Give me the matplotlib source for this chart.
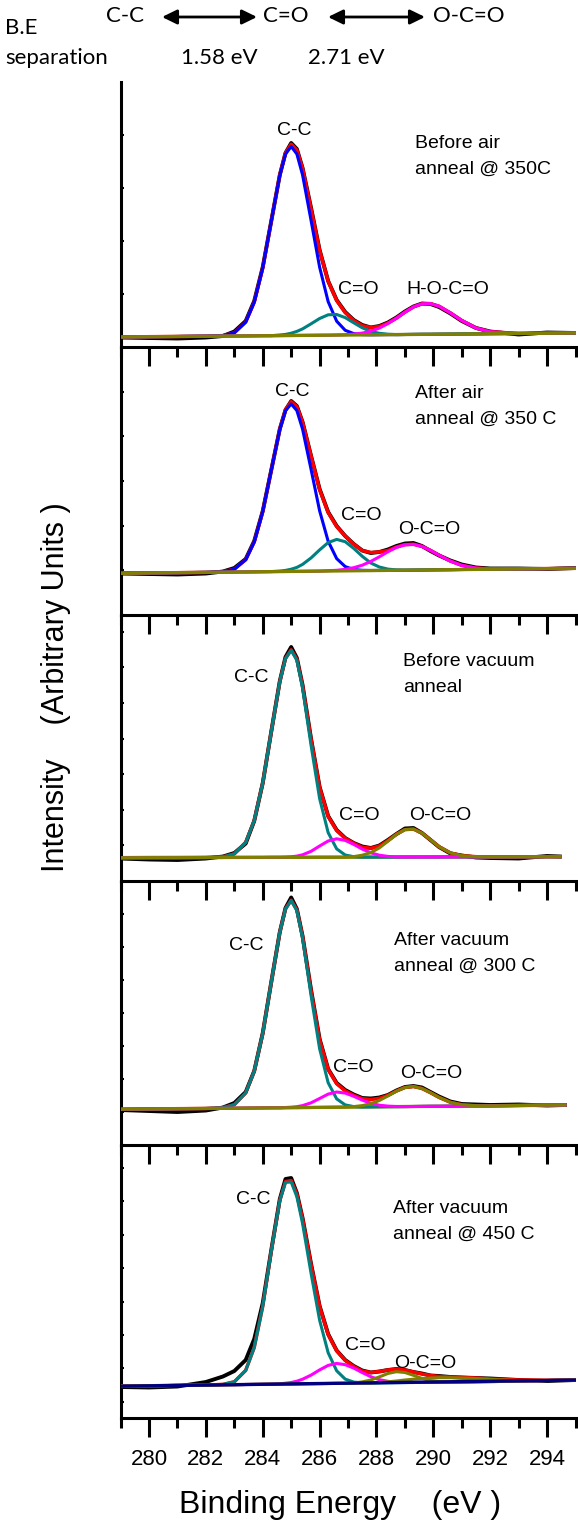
import numpy as np
import matplotlib.pyplot as plt
from matplotlib.ticker import MultipleLocator, FixedLocator

plt.rcParams['font.family'] = ['Liberation Sans', 'DejaVu Sans']

# binding energy grid (eV) shared by all spectra, last point differs per panel
be_grid = [279.0, 280.0, 281.0, 282.0, 282.6, 283.0, 283.4, 283.7, 284.0, 284.3,
           284.6, 284.8, 285.0, 285.2, 285.4, 285.7, 286.0, 286.3, 286.6, 286.9,
           287.2, 287.5, 287.8, 288.1, 288.4, 288.7, 289.0, 289.3, 289.6, 289.9,
           290.2, 290.6, 291.0, 291.5, 292.0, 293.0, 294.0]
be_end = [295.0, 295.0, 294.45, 294.63, 295.0]

# panel 1 : before air anneal @ 350C
raw1 = [9.5, 9.0, 8.5, 9.5, 11.0, 15.5, 26.0, 46.0, 80.0, 126.0, 172.0, 194.0, 204.0, 198.0,
        179.0, 139.0, 97.0, 66.0, 47.0, 35.0, 27.0, 22.0, 19.5, 21.0, 24.5, 29.5, 35.5, 40.5,
        43.5, 43.0, 40.0, 33.5, 26.0, 19.0, 15.5, 12.5, 14.5, 14.0]
fit1 = [10.0, 10.3, 10.5, 10.8, 11.4, 14.2, 24.9, 44.8, 79.3, 126.0, 172.5, 194.0, 202.8, 197.0,
        178.6, 137.9, 96.6, 65.8, 46.5, 34.4, 26.5, 21.3, 19.5, 20.5, 23.9, 28.8, 34.8, 40.1,
        43.2, 43.4, 40.8, 34.1, 26.5, 19.0, 15.2, 13.6, 13.8, 14.0]
cc1 = [10.0, 10.3, 10.5, 10.8, 11.4, 14.2, 24.9, 44.8, 79.3, 126.0, 171.9, 192.9, 200.5, 193.0,
       172.1, 126.4, 79.8, 45.4, 25.8, 16.7, 13.4, 12.4, 12.2, 12.3, 12.4, 12.4, 12.5, 12.6,
       12.7, 12.7, 12.8, 12.9, 13.0, 13.1, 13.3, 13.5, 13.8, 14.0]
co1 = [10.0, 10.3, 10.5, 10.8, 10.9, 11.0, 11.1, 11.2, 11.3, 11.3, 12.0, 12.6, 13.8, 15.6,
       18.1, 23.2, 28.5, 32.2, 32.5, 29.4, 24.2, 19.2, 15.6, 13.7, 12.8, 12.4, 12.5, 12.6,
       12.7, 12.7, 12.8, 12.9, 13.0, 13.1, 13.3, 13.5, 13.8, 14.0]
hoco1 = [10.0, 10.3, 10.5, 10.8, 10.9, 11.0, 11.1, 11.2, 11.3, 11.3, 11.4, 11.5, 11.5, 11.6,
         11.6, 11.7, 11.8, 11.8, 12.0, 12.3, 12.9, 13.9, 15.8, 18.9, 23.4, 28.8, 34.8, 40.1,
         43.2, 43.4, 40.8, 34.1, 26.5, 19.0, 15.2, 13.6, 13.8, 14.0]
bg1 = [10.0, 14.0]

# panel 2 : after air anneal @ 350 C
raw2 = [41.5, 41.0, 40.5, 41.5, 43.5, 47.0, 56.0, 74.0, 104.0, 145.0, 186.0, 205.0, 214.0, 209.0,
        193.0, 159.0, 126.0, 103.0, 89.0, 79.0, 71.0, 64.5, 62.0, 63.0, 65.5, 69.0, 71.5, 72.0,
        69.0, 64.0, 59.5, 54.5, 50.5, 47.5, 46.5, 46.5, 46.0, 47.0]
fit2 = [41.7, 42.0, 42.3, 42.6, 43.3, 45.8, 55.3, 73.0, 103.6, 145.1, 186.2, 205.4, 213.3, 208.4,
        192.8, 158.8, 125.4, 102.5, 88.5, 79.0, 70.8, 64.4, 62.5, 63.0, 64.5, 68.0, 70.3, 70.7,
        68.6, 64.6, 59.8, 53.9, 49.6, 46.9, 46.1, 46.1, 46.4, 46.7]
cc2 = [41.7, 42.0, 42.3, 42.6, 43.3, 45.8, 55.3, 73.0, 103.6, 145.1, 185.7, 204.3, 211.1, 204.4,
       185.9, 145.5, 104.2, 73.8, 56.4, 48.4, 45.5, 44.7, 44.5, 44.6, 44.6, 44.7, 44.8, 44.9,
       45.0, 45.1, 45.2, 45.3, 45.5, 45.6, 45.8, 46.1, 46.4, 46.7]
co2 = [41.7, 42.0, 42.3, 42.6, 42.8, 43.0, 43.1, 43.2, 43.3, 43.4, 43.9, 44.6, 45.8, 47.6,
       50.6, 57.1, 65.1, 72.4, 75.6, 73.3, 66.6, 58.7, 52.0, 48.0, 45.9, 45.1, 44.8, 44.9,
       45.0, 45.1, 45.2, 45.3, 45.5, 45.6, 45.8, 46.1, 46.4, 46.7]
oco2 = [41.7, 42.0, 42.3, 42.6, 42.8, 43.0, 43.1, 43.2, 43.3, 43.4, 43.5, 43.5, 43.6, 43.6,
        43.7, 43.8, 43.9, 44.3, 44.7, 45.7, 47.3, 49.8, 53.6, 58.2, 63.2, 67.6, 70.3, 70.7,
        68.6, 64.6, 59.8, 53.9, 49.6, 46.9, 46.1, 46.1, 46.4, 46.7]
bg2 = [41.7, 46.7]

# panel 3 : before vacuum anneal
raw3 = [22.5, 21.5, 21.0, 22.5, 24.5, 28.0, 37.5, 60.0, 98.0, 149.5, 200.0, 224.0, 234.0, 223.0,
        196.0, 142.0, 94.0, 65.0, 51.0, 43.0, 38.0, 34.5, 33.0, 35.5, 41.0, 47.0, 52.5, 53.0,
        48.0, 41.0, 34.0, 27.5, 25.5, 23.5, 23.0, 22.5, 25.0, 24.5]
fit3 = [23.3, 23.4, 23.4, 23.5, 24.1, 27.1, 38.7, 60.4, 98.1, 149.3, 199.4, 222.6, 231.2, 221.8,
        195.3, 141.5, 93.6, 64.6, 50.5, 42.8, 37.7, 33.8, 32.7, 35.0, 40.4, 46.7, 51.4, 51.9,
        47.9, 41.2, 34.3, 28.1, 25.3, 24.3, 24.1, 24.2, 24.3, 24.3]
cc3 = [23.3, 23.4, 23.4, 23.5, 24.1, 27.1, 38.7, 60.4, 98.1, 149.3, 199.4, 222.4, 230.7, 220.6,
       192.8, 135.5, 82.4, 48.4, 32.1, 26.0, 24.3, 23.9, 23.9, 23.9, 23.9, 23.9, 24.0, 24.0,
       24.0, 24.0, 24.0, 24.1, 24.1, 24.1, 24.1, 24.2, 24.3, 24.3]
co3 = [23.3, 23.4, 23.4, 23.5, 23.5, 23.6, 23.6, 23.6, 23.6, 23.7, 23.7, 23.9, 24.2, 24.9,
       26.2, 29.7, 35.0, 40.0, 42.2, 40.6, 36.6, 31.9, 28.2, 25.8, 24.6, 24.1, 24.0, 24.0,
       24.0, 24.0, 24.0, 24.1, 24.1, 24.1, 24.1, 24.2, 24.3, 24.3]
oco3 = [23.3, 23.4, 23.4, 23.5, 23.5, 23.6, 23.6, 23.6, 23.6, 23.7, 23.7, 23.7, 23.7, 23.7,
        23.7, 23.7, 23.8, 23.8, 23.8, 23.8, 24.4, 25.8, 28.4, 33.1, 39.7, 46.5, 51.4, 51.9,
        47.9, 41.2, 34.3, 28.1, 25.3, 24.3, 24.1, 24.2, 24.3, 24.3]
bg3 = [23.3, 24.3]

# panel 4 : after vacuum anneal @ 300 C
raw4 = [35.0, 34.0, 33.0, 34.5, 37.5, 42.0, 53.0, 74.0, 112.0, 163.0, 213.0, 237.0, 247.5, 236.0,
        209.0, 155.0, 106.0, 76.0, 62.0, 55.0, 50.5, 47.0, 46.5, 47.5, 50.0, 54.5, 58.0, 59.0,
        57.5, 53.0, 48.5, 43.5, 41.0, 40.5, 40.0, 40.5, 39.5, 40.0]
fit4 = [35.7, 36.0, 36.3, 36.5, 37.3, 40.3, 52.0, 73.8, 111.6, 162.8, 212.9, 236.2, 244.8, 235.2,
        208.5, 154.0, 105.1, 75.5, 61.3, 54.1, 49.7, 46.3, 45.5, 46.6, 49.6, 54.0, 57.5, 58.5,
        56.5, 52.3, 47.6, 42.7, 40.2, 39.3, 39.2, 39.5, 39.8, 40.0]
cc4 = [35.7, 36.0, 36.3, 36.5, 37.3, 40.3, 52.0, 73.8, 111.6, 162.8, 212.9, 236.0, 244.4, 234.3,
       206.6, 149.3, 96.2, 62.3, 46.1, 40.1, 38.4, 38.0, 38.1, 38.2, 38.3, 38.3, 38.4, 38.5,
       38.6, 38.7, 38.7, 38.8, 38.9, 39.1, 39.2, 39.5, 39.8, 40.0]
co4 = [35.7, 36.0, 36.3, 36.5, 36.7, 36.8, 36.9, 37.0, 37.1, 37.2, 37.2, 37.5, 37.8, 38.3,
       39.4, 42.2, 46.5, 50.9, 53.0, 51.9, 48.7, 44.9, 41.7, 39.8, 38.9, 38.5, 38.4, 38.5,
       38.6, 38.7, 38.7, 38.8, 38.9, 39.1, 39.2, 39.5, 39.8, 40.0]
oco4 = [35.7, 36.0, 36.3, 36.5, 36.7, 36.8, 36.9, 37.0, 37.1, 37.2, 37.2, 37.3, 37.4, 37.4,
        37.5, 37.5, 37.6, 37.7, 37.8, 37.9, 38.4, 39.4, 41.3, 44.5, 49.0, 53.8, 57.5, 58.5,
        56.5, 52.3, 47.6, 42.7, 40.2, 39.3, 39.2, 39.5, 39.8, 40.0]
bg4 = [35.7, 40.0]

# panel 5 : after vacuum anneal @ 450 C
raw5 = [31.0, 30.5, 31.5, 36.0, 41.5, 47.0, 58.0, 79.0, 115.0, 168.0, 219.0, 239.0, 240.0, 225.0,
        200.0, 154.0, 112.0, 84.0, 67.5, 58.0, 52.0, 47.5, 45.5, 46.5, 48.0, 49.0, 48.0, 46.0,
        44.5, 42.5, 42.0, 41.0, 40.5, 40.0, 39.5, 38.0, 37.0, 38.0]
fit5 = [31.8, 32.2, 32.6, 32.9, 33.6, 36.2, 47.6, 70.5, 111.8, 167.0, 217.6, 236.4, 237.5, 223.9,
        199.1, 153.1, 111.5, 83.4, 67.2, 57.6, 51.5, 47.0, 45.5, 46.5, 48.0, 48.8, 48.0, 46.0,
        44.0, 42.5, 41.5, 41.0, 40.5, 40.0, 39.0, 38.0, 37.8, 38.0]
cc5 = [31.8, 32.2, 32.6, 32.9, 33.6, 36.2, 47.6, 70.5, 111.8, 167.0, 217.3, 235.6, 236.0, 221.2,
       194.5, 144.5, 97.8, 65.3, 47.2, 38.9, 35.9, 35.1, 34.9, 35.0, 35.2, 35.3, 35.4, 35.5,
       35.6, 35.7, 35.8, 35.9, 36.0, 36.2, 36.4, 36.8, 37.5, 37.9]
co5 = [31.8, 32.2, 32.6, 32.9, 33.2, 33.3, 33.5, 33.6, 33.7, 33.8, 34.2, 34.8, 35.5, 36.8,
       38.8, 42.9, 48.1, 52.6, 54.6, 53.3, 49.9, 45.4, 41.3, 38.3, 36.7, 35.9, 35.6, 35.5,
       35.6, 35.7, 35.8, 35.9, 36.0, 36.2, 36.4, 36.8, 37.5, 37.9]
oco5 = [31.8, 32.2, 32.6, 32.9, 33.2, 33.3, 33.5, 33.6, 33.7, 33.8, 33.9, 34.0, 34.0, 34.1,
        34.2, 34.3, 34.4, 34.5, 34.6, 34.6, 35.1, 36.1, 38.0, 41.1, 44.5, 46.3, 45.5, 42.7,
        39.6, 37.4, 36.4, 36.0, 36.0, 36.2, 36.4, 36.8, 37.5, 37.9]
sat5 = [31.8, 32.2, 32.6, 32.9, 33.2, 33.3, 33.5, 33.6, 33.7, 33.8, 33.9, 34.0, 34.0, 34.1,
        34.2, 34.3, 34.4, 34.5, 34.6, 34.6, 34.7, 34.8, 34.9, 35.5, 36.2, 37.0, 38.0, 38.8,
        39.5, 40.0, 40.3, 40.3, 40.0, 39.5, 38.6, 37.4, 37.6, 37.9]
bg5 = [31.8, 37.9]

conditions = ['Before air\nanneal @ 350C', 'After air\nanneal @ 350 C', 'Before vacuum\nanneal',
              'After vacuum\nanneal @ 300 C', 'After vacuum\nanneal @ 450 C']

TEAL, OLIVE, NAVY = '#008080', '#808000', '#000080'

# (data, colour) in drawing order for each panel
panels = [
    dict(raw=raw1, fit=fit1, comps=[(cc1, '#0000ff'), (co1, TEAL), (hoco1, '#ff00ff')],
         bg=bg1, bg_col=OLIVE, bg_top=True),
    dict(raw=raw2, fit=fit2, comps=[(cc2, '#0000ff'), (co2, TEAL), (oco2, '#ff00ff')],
         bg=bg2, bg_col=OLIVE, bg_top=True),
    dict(raw=raw3, fit=fit3, comps=[(cc3, TEAL), (co3, '#ff00ff'), (oco3, OLIVE)],
         bg=bg3, bg_col=OLIVE, bg_top=False),
    dict(raw=raw4, fit=fit4, comps=[(cc4, TEAL), (co4, '#ff00ff'), (oco4, OLIVE)],
         bg=bg4, bg_col=OLIVE, bg_top=False),
    dict(raw=raw5, fit=fit5, comps=[(cc5, TEAL), (co5, '#ff00ff'), (oco5, OLIVE), (sat5, OLIVE)],
         bg=bg5, bg_col=NAVY, bg_top=True),
]

W, H = 578, 1526
fig = plt.figure(figsize=(W / 100, H / 100), dpi=100)

# overlay in pixel coordinates for the header and the y label
ov = fig.add_axes([0, 0, 1, 1])
ov.set_xlim(0, W)
ov.set_ylim(H, 0)
ov.axis('off')

top_font = dict(family=['Lato', 'DejaVu Sans'], fontsize=16)
ov.text(5, 28, 'B.E', ha='left', va='center', **top_font)
ov.text(5, 58, 'separation', ha='left', va='center', **top_font)
ov.text(125, 16, 'C-C', ha='center', va='center', **top_font)
ov.text(286, 16, 'C=O', ha='center', va='center', **top_font)
ov.text(469, 16, 'O-C=O', ha='center', va='center', **top_font)
ov.text(219, 58, '1.58 eV', ha='center', va='center', **top_font)
ov.text(346, 58, '2.71 eV', ha='center', va='center', **top_font)
for x0, x1 in [(162, 257), (328, 425)]:
    ov.annotate('', xy=(x1, 17), xytext=(x0, 17),
                arrowprops=dict(arrowstyle='<|-|>,head_length=0.45,head_width=0.22',
                                lw=2.0, color='black', shrinkA=0, shrinkB=0,
                                mutation_scale=20))
ov.text(56, 687, 'Intensity    (Arbitrary Units )', rotation=90,
        ha='center', va='center', fontsize=22)

tops = [82, 347, 615, 881, 1145]
bottoms = [347, 615, 881, 1145, 1418]
ytick_step = [53.0, 44.7, 35.6, 33.0, 33.4]
ytick_start = [0.0, 0.0, 0.0, 0.0, 16.3]
left_px, right_px = 120.6, 575.5

# text positions (eV, height) for the peak names
peak_text = [
    [(285.1, 217, 'C-C'), (287.36, 57, 'C=O'), (290.5, 57, 'H-O-C=O')],
    [(285.05, 223, 'C-C'), (287.46, 100, 'C=O'), (289.87, 85, 'O-C=O')],
    [(283.6, 203, 'C-C'), (287.38, 66, 'C=O'), (290.25, 65, 'O-C=O')],
    [(283.41, 199, 'C-C'), (287.19, 78, 'C=O'), (289.93, 72, 'O-C=O')],
    [(283.67, 218, 'C-C'), (287.6, 73, 'C=O'), (289.73, 55, 'O-C=O')],
]
cond_pos = [(289.36, 190.4), (289.36, 208.8), (288.94, 206.4), (288.6, 191.9), (288.57, 196.4)]

for i, p in enumerate(panels):
    hpx = bottoms[i] - tops[i]
    ax = fig.add_axes([left_px / W, 1 - bottoms[i] / H,
                       (right_px - left_px) / W, hpx / H])
    ax.patch.set_visible(False)
    x = be_grid + [be_end[i]]

    ax.plot(x, p['raw'], color='black', lw=2.8, zorder=2)
    ax.plot(x, p['fit'], color='#ff0000', lw=2.5, zorder=3)
    if not p['bg_top']:
        ax.plot([279.0, be_end[i]], p['bg'], color=p['bg_col'], lw=2.4, zorder=3.5)
    for k, (yv, col) in enumerate(p['comps']):
        ax.plot(x, yv, color=col, lw=2.2, zorder=4 + k * 0.1)
    if p['bg_top']:
        ax.plot([279.0, be_end[i]], p['bg'], color=p['bg_col'], lw=2.4, zorder=5)

    for ex, ey, s in peak_text[i]:
        ax.text(ex, ey, s, ha='center', va='center', fontsize=14)
    ax.text(cond_pos[i][0], cond_pos[i][1], conditions[i], ha='left', va='center',
            fontsize=14, linespacing=1.7)

    ax.set_xlim(279, 295)
    ax.set_ylim(0, hpx)
    for side in ['top', 'right']:
        ax.spines[side].set_visible(False)
    for side in ['left', 'bottom']:
        ax.spines[side].set_linewidth(2.2)
    ax.xaxis.set_major_locator(MultipleLocator(2))
    ax.xaxis.set_minor_locator(FixedLocator(np.arange(279, 296, 2)))
    ax.tick_params(axis='x', which='major', direction='out', length=14, width=2.2,
                   labelsize=16, pad=8, labelbottom=(i == 4))
    ax.tick_params(axis='x', which='minor', direction='out', length=7.5, width=2.2)
    ax.yaxis.set_major_locator(FixedLocator(np.arange(ytick_start[i], hpx, ytick_step[i])))
    ax.tick_params(axis='y', direction='in', length=2.5, width=1.5, labelleft=False)

    if i == 4:
        ax.set_xlabel('Binding Energy    (eV )', fontsize=23)
        ax.xaxis.set_label_coords((340 - left_px) / (right_px - left_px),
                                  (bottoms[i] - 1505) / hpx)
        ax.xaxis.label.set_va('center')

fig.savefig('out.png', dpi=100)
